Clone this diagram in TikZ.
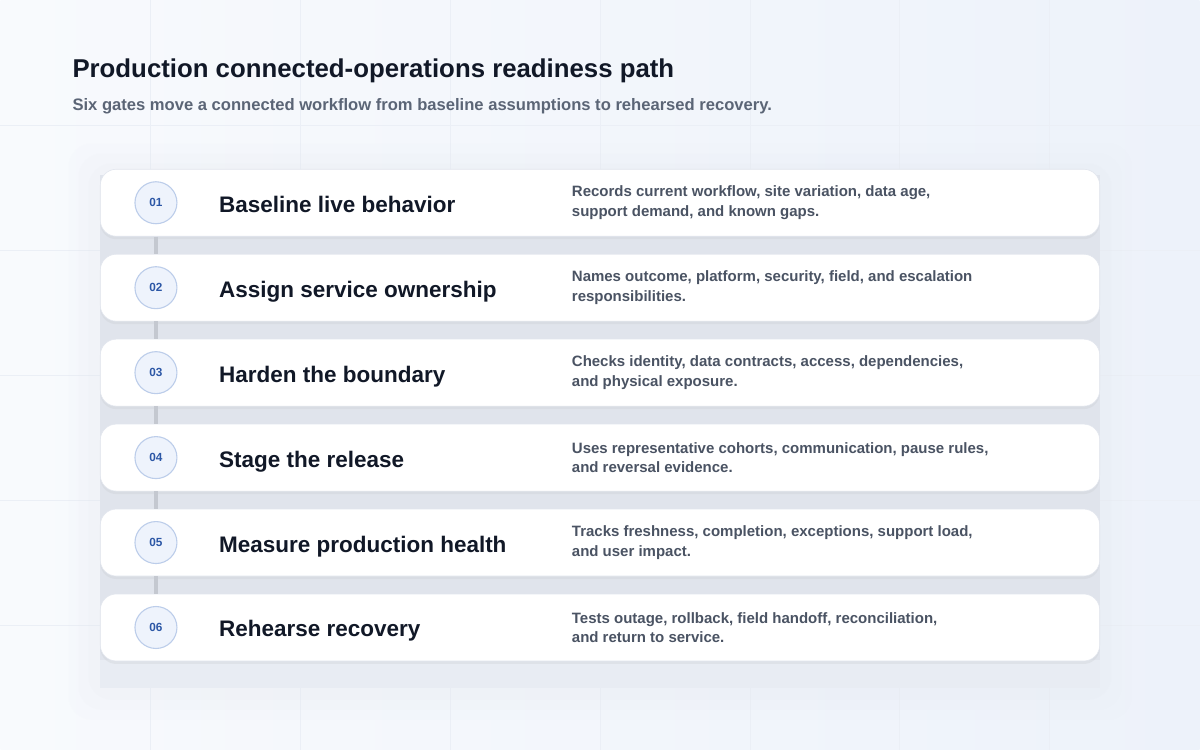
\documentclass[tikz,border=0pt]{standalone}
\usepackage{fontspec}
\setmainfont{Liberation Sans}
\usetikzlibrary{positioning,shadows}

\definecolor{inkdark}{HTML}{111827}
\definecolor{inksub}{HTML}{5B6576}
\definecolor{inknote}{HTML}{4A5363}
\definecolor{badgeblue}{HTML}{2C57A6}
\definecolor{badgefill}{HTML}{EEF3FC}
\definecolor{badgeline}{HTML}{BCCDEA}
\definecolor{linkgray}{HTML}{C4C8D0}
\definecolor{cardline}{HTML}{E2E6EE}
\definecolor{panelgray}{HTML}{E0E4EC}
\definecolor{panelfoot}{HTML}{E8ECF3}
\definecolor{bgtop}{HTML}{F8FAFD}
\definecolor{bgbottom}{HTML}{EDF2FA}
\definecolor{gridblue}{HTML}{EBEFF6}

\begin{document}
\begin{tikzpicture}[x=1pt,y=-1pt,
   card/.style={draw=cardline,line width=.6pt,fill=white,rounded corners=16pt,
      minimum width=1000pt,minimum height=67pt,inner sep=0pt,
      drop shadow={shadow xshift=0pt,shadow yshift=-3pt,fill=panelgray!70!gray,opacity=.25}},
   badge/.style={circle,draw=badgeline,line width=1.1pt,fill=badgefill,minimum size=42pt,
      inner sep=0pt,text=badgeblue,font=\fontsize{11.8}{13}\selectfont\bfseries},
   steptitle/.style={anchor=base west,inner sep=0pt,text=inkdark,
      font=\fontsize{22.5}{26}\selectfont\bfseries},
   stepnote/.style={anchor=west,inner sep=0pt,align=left,text=inknote,
      font=\fontsize{15}{19.5}\selectfont\bfseries},
   link/.style={draw=linkgray,line width=4pt},
   gridline/.style={draw=gridblue,line width=.7pt}]

% background
\shade[left color=bgtop,right color=bgbottom] (0,0) rectangle (1200,750);
\foreach \x in {150,300,...,1050} \draw[gridline] (\x,0) -- (\x,750);
\foreach \y in {125,250,...,625} \draw[gridline] (0,\y) -- (1200,\y);
\useasboundingbox (0,0) rectangle (1200,750);

% heading
\node[anchor=base west,inner sep=0pt,text=inkdark,font=\fontsize{25.8}{30}\selectfont\bfseries]
   (title) at (72,77) {Production connected-operations readiness path};
\node[anchor=base west,inner sep=0pt,text=inksub,font=\fontsize{16.6}{20}\selectfont\bfseries]
   (subtitle) at (72,110.5) {Six gates move a connected workflow from baseline assumptions to rehearsed recovery.};

% panel behind the gates
\foreach \d/\o in {32/.05,22/.07,12/.09}
   \fill[panelgray,opacity=\o,rounded corners=24pt] (100-\d,175-\d) rectangle (1100+\d,688+\d);
\fill[panelfoot] (100,175) rectangle (1100,688);
\fill[panelgray] (100,175) rectangle (1100,660);

% gates
\node[card] (card1) at (600,202.5) {};
\node[card,below=17.4pt of card1] (card2) {};
\node[card,below=17.4pt of card2] (card3) {};
\node[card,below=17.4pt of card3] (card4) {};
\node[card,below=17.4pt of card4] (card5) {};
\node[card,below=17.4pt of card5] (card6) {};

\node[badge] (badge1) at ([xshift=56pt]card1.west) {01};
\node[badge] (badge2) at ([xshift=56pt]card2.west) {02};
\node[badge] (badge3) at ([xshift=56pt]card3.west) {03};
\node[badge] (badge4) at ([xshift=56pt]card4.west) {04};
\node[badge] (badge5) at ([xshift=56pt]card5.west) {05};
\node[badge] (badge6) at ([xshift=56pt]card6.west) {06};

\node[steptitle] (gate1) at ([xshift=119pt,yshift=-9.5pt]card1.west) {Baseline live behavior};
\node[steptitle] (gate2) at ([xshift=119pt,yshift=-9.5pt]card2.west) {Assign service ownership};
\node[steptitle] (gate3) at ([xshift=119pt,yshift=-9.5pt]card3.west) {Harden the boundary};
\node[steptitle] (gate4) at ([xshift=119pt,yshift=-9.5pt]card4.west) {Stage the release};
\node[steptitle] (gate5) at ([xshift=119pt,yshift=-9.5pt]card5.west) {Measure production health};
\node[steptitle] (gate6) at ([xshift=119pt,yshift=-9.5pt]card6.west) {Rehearse recovery};

\node[stepnote] (note1) at ([xshift=472pt]card1.west)
   {Records current workflow, site variation, data age,\\support demand, and known gaps.};
\node[stepnote] (note2) at ([xshift=472pt]card2.west)
   {Names outcome, platform, security, field, and escalation\\responsibilities.};
\node[stepnote] (note3) at ([xshift=472pt]card3.west)
   {Checks identity, data contracts, access, dependencies,\\and physical exposure.};
\node[stepnote] (note4) at ([xshift=472pt]card4.west)
   {Uses representative cohorts, communication, pause rules,\\and reversal evidence.};
\node[stepnote] (note5) at ([xshift=472pt]card5.west)
   {Tracks freshness, completion, exceptions, support load,\\and user impact.};
\node[stepnote] (note6) at ([xshift=472pt]card6.west)
   {Tests outage, rollback, field handoff, reconciliation,\\and return to service.};

% links between gates
\draw[link] (card1.south -| badge1) -- (card2.north -| badge2);
\draw[link] (card2.south -| badge2) -- (card3.north -| badge3);
\draw[link] (card3.south -| badge3) -- (card4.north -| badge4);
\draw[link] (card4.south -| badge4) -- (card5.north -| badge5);
\draw[link] (card5.south -| badge5) -- (card6.north -| badge6);
\end{tikzpicture}
\end{document}
